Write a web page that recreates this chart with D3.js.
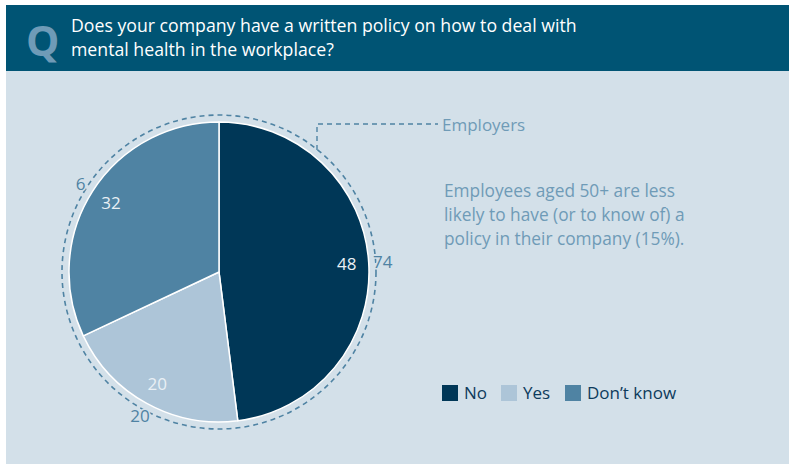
<!DOCTYPE html>
<html>
<head>
<meta charset="utf-8">
<script src="https://cdn.jsdelivr.net/npm/d3@7"></script>
<style>
  html, body { margin: 0; padding: 0; background: #ffffff; }
  svg { display: block; font-family: "Open Sans", "Noto Sans", sans-serif; }
</style>
</head>
<body>
<svg id="chart" width="789" height="464"></svg>
<script>
// Answer categories and shares (%)
const categories = ["No", "Yes", "Don\u2019t know"];
const employeeValues = [48, 20, 32];
const employerValues = [74, 20, 6];
const colors = ["#003757", "#adc5d8", "#4f83a3"];

const titleLines = [
  "Does your company have a written policy on how to deal with",
  "mental health in the workplace?"
];
const noteLines = [
  "Employees aged 50+ are less",
  "likely to have (or to know of) a",
  "policy in their company (15%)."
];
const ringLabel = "Employers";

const panelColor = "#d3e0e9";
const svg = d3.select("#chart");

// Panel background
svg.append("rect").attr("x", 6).attr("y", 70).attr("width", 783).attr("height", 394)
  .attr("fill", panelColor);

// Header band
svg.append("rect").attr("x", 6).attr("y", 5).attr("width", 783).attr("height", 66)
  .attr("fill", "#005474");

svg.append("text").attr("x", 26).attr("y", 56)
  .attr("font-size", 42).attr("font-weight", 700).attr("fill", "#6f9bb7")
  .text("Q");

svg.append("g").selectAll("text").data(titleLines).join("text")
  .attr("x", 71).attr("y", (d, i) => 32 + i * 24)
  .attr("font-size", 17.7).attr("fill", "#ffffff")
  .text(d => d);

// Pie
const cx = 219, cy = 272, r = 150;
const g = svg.append("g").attr("transform", `translate(${cx},${cy})`);

const pie = d3.pie().sort(null).value(d => d.value);
const arcs = pie(categories.map((c, i) => ({ name: c, value: employeeValues[i], employer: employerValues[i], color: colors[i] })));

const arc = d3.arc().innerRadius(0).outerRadius(r);
g.selectAll("path.slice").data(arcs).join("path")
  .attr("class", "slice")
  .attr("d", arc)
  .attr("fill", d => d.data.color)
  .attr("stroke", "#ffffff")
  .attr("stroke-width", 1.5)
  .attr("stroke-linejoin", "round");

// Employers ring (dashed)
const ringR = 157;
g.append("circle").attr("r", ringR)
  .attr("fill", "none").attr("stroke", "#4f83a3")
  .attr("stroke-width", 1.6).attr("stroke-dasharray", "5,4");

// Inner labels (employees)
const labelArc = d3.arc().innerRadius(128).outerRadius(128);
g.selectAll("text.inner").data(arcs).join("text")
  .attr("class", "inner")
  .attr("transform", d => {
    const [x, y] = labelArc.centroid(d);
    return `translate(${x},${y})`;
  })
  .attr("text-anchor", "middle").attr("dy", "0.35em")
  .attr("font-size", 17).attr("fill", "#e9f0f5")
  .text(d => d.data.value);

// Outer labels (employers), haloed so the ring breaks around them
const outerArc = d3.arc().innerRadius(164).outerRadius(164);
g.selectAll("text.outer").data(arcs).join("text")
  .attr("class", "outer")
  .attr("transform", d => {
    const [x, y] = outerArc.centroid(d);
    return `translate(${x},${y})`;
  })
  .attr("text-anchor", "middle").attr("dy", "0.35em")
  .attr("font-size", 17).attr("fill", "#4f83a3")
  .attr("stroke", panelColor).attr("stroke-width", 3)
  .attr("paint-order", "stroke")
  .text(d => d.data.employer);

// Leader to the ring label
svg.append("path")
  .attr("d", "M317,150 L317,124 L438,124")
  .attr("fill", "none").attr("stroke", "#4f83a3")
  .attr("stroke-width", 1.4).attr("stroke-dasharray", "5,4");
svg.append("text").attr("x", 442).attr("y", 131)
  .attr("font-size", 17).attr("fill", "#6f9bb7")
  .text(ringLabel);

// Note
svg.append("g").selectAll("text").data(noteLines).join("text")
  .attr("x", 444).attr("y", (d, i) => 197 + i * 24)
  .attr("font-size", 17.3).attr("fill", "#6f9bb7")
  .text(d => d);

// Legend
const legendX = [442, 501, 565];
const legend = svg.append("g").selectAll("g").data(categories).join("g")
  .attr("transform", (d, i) => `translate(${legendX[i]},385)`);
legend.append("rect").attr("width", 16).attr("height", 16)
  .attr("fill", (d, i) => colors[i]);
legend.append("text").attr("x", 22).attr("y", 14)
  .attr("font-size", 17).attr("fill", "#0d3b5c")
  .text(d => d);
</script>
</body>
</html>
